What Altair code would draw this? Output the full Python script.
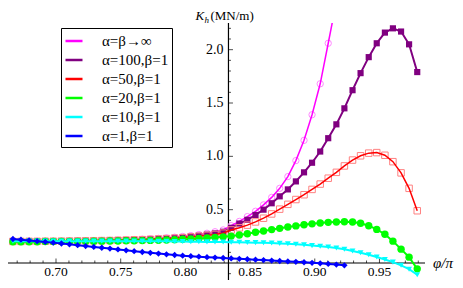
import altair as alt
import pandas as pd

# ---------------- data ----------------
phi = [0.6667, 0.6729, 0.6792, 0.6854, 0.6917, 0.6979, 0.7042, 0.7104, 0.7167, 0.7229,
       0.7292, 0.7354, 0.7417, 0.7479, 0.7542, 0.7604, 0.7667, 0.7729, 0.7792, 0.7854,
       0.7917, 0.7979, 0.8042, 0.8104, 0.8167, 0.8229, 0.8292, 0.8354, 0.8417, 0.8479,
       0.8542, 0.8604, 0.8667, 0.8729, 0.8792, 0.8854, 0.8917, 0.8979, 0.9042, 0.9104,
       0.9167, 0.9229, 0.9292, 0.9354, 0.9417, 0.9479, 0.9542, 0.9604, 0.9667, 0.9729,
       0.9792]

k_inf = [0.203, 0.203, 0.204, 0.204, 0.205, 0.205, 0.206, 0.207, 0.208, 0.209,
         0.210, 0.212, 0.213, 0.215, 0.217, 0.220, 0.223, 0.227, 0.231, 0.236,
         0.242, 0.249, 0.257, 0.267, 0.279, 0.293, 0.310, 0.350, 0.390, 0.435,
         0.485, 0.545, 0.615, 0.700, 0.810, 0.960, 1.150, 1.390, 1.680, 2.060,
         2.450]
k_100 = [0.202, 0.202, 0.203, 0.203, 0.204, 0.204, 0.205, 0.206, 0.207, 0.208,
         0.209, 0.210, 0.212, 0.213, 0.215, 0.217, 0.220, 0.223, 0.226, 0.230,
         0.235, 0.241, 0.248, 0.256, 0.266, 0.278, 0.293, 0.330, 0.370, 0.405,
         0.450, 0.500, 0.560, 0.625, 0.690, 0.765, 0.850, 0.940, 1.045, 1.170,
         1.300, 1.450, 1.620, 1.780, 1.930, 2.060, 2.160, 2.200, 2.170, 2.050,
         1.790]
k_50 = [0.202, 0.202, 0.203, 0.203, 0.204, 0.204, 0.205, 0.206, 0.207, 0.208,
        0.209, 0.210, 0.211, 0.213, 0.215, 0.217, 0.219, 0.222, 0.225, 0.229,
        0.233, 0.238, 0.244, 0.251, 0.259, 0.268, 0.280, 0.310, 0.330, 0.355,
        0.385, 0.420, 0.460, 0.505, 0.550, 0.595, 0.640, 0.690, 0.740, 0.795,
        0.850, 0.910, 0.965, 1.005, 1.030, 1.035, 1.010, 0.950, 0.845, 0.700,
        0.490]
k_20 = [0.200, 0.200, 0.200, 0.200, 0.201, 0.201, 0.202, 0.202, 0.203, 0.203,
        0.204, 0.205, 0.206, 0.207, 0.208, 0.209, 0.210, 0.212, 0.214, 0.216,
        0.219, 0.222, 0.226, 0.230, 0.235, 0.240, 0.245, 0.252, 0.262, 0.275,
        0.288, 0.300, 0.313, 0.325, 0.337, 0.348, 0.358, 0.367, 0.375, 0.381,
        0.385, 0.387, 0.384, 0.372, 0.350, 0.315, 0.270, 0.205, 0.130, 0.055,
        -0.055]
k_10 = [0.204, 0.204, 0.205, 0.205, 0.205, 0.205, 0.205, 0.205, 0.205, 0.205,
        0.205, 0.205, 0.205, 0.205, 0.205, 0.205, 0.205, 0.205, 0.204, 0.203,
        0.202, 0.201, 0.200, 0.199, 0.198, 0.197, 0.196, 0.195, 0.194, 0.193,
        0.191, 0.189, 0.187, 0.184, 0.180, 0.176, 0.170, 0.163, 0.157, 0.150,
        0.140, 0.128, 0.113, 0.096, 0.077, 0.056, 0.033, 0.008, -0.022, -0.058,
        -0.110]
k_1 = [0.225, 0.219, 0.212, 0.205, 0.198, 0.191, 0.183, 0.175, 0.167, 0.159,
       0.151, 0.143, 0.135, 0.127, 0.119, 0.111, 0.103, 0.095, 0.088, 0.081,
       0.075, 0.069, 0.064, 0.059, 0.055, 0.051, 0.047, 0.043, 0.039, 0.035,
       0.031, 0.027, 0.023, 0.019, 0.015, 0.011, 0.007, 0.002, -0.003, -0.009,
       -0.015, -0.022]

series_names = ["α=β→∞", "α=100,β=1", "α=50,β=1", "α=20,β=1", "α=10,β=1", "α=1,β=1"]
series_vals = [k_inf, k_100, k_50, k_20, k_10, k_1]
line_colors = ["#ff00ff", "#800080", "#ff0000", "#00ff00", "#00ffff", "#0000ff"]

x_major = [0.70, 0.75, 0.80, 0.85, 0.90, 0.95]
x_major_labels = ["0.70", "0.75", "0.80", "0.85", "0.90", "0.95"]
x_minor = [0.67, 0.68, 0.69, 0.71, 0.72, 0.73, 0.74, 0.76, 0.77, 0.78, 0.79,
           0.81, 0.82, 0.83, 0.84, 0.86, 0.87, 0.88, 0.89, 0.91, 0.92, 0.93,
           0.94, 0.96, 0.97, 0.98]
y_major = [0.5, 1.0, 1.5, 2.0]
y_major_labels = ["0.5", "1.0", "1.5", "2.0"]
y_minor = [-0.1, 0.1, 0.2, 0.3, 0.4, 0.6, 0.7, 0.8, 0.9, 1.1, 1.2, 1.3, 1.4,
           1.6, 1.7, 1.8, 1.9, 2.1, 2.2]

x_dom = [0.6629, 0.9852]
y_dom = [-0.1406, 2.25]
x_cross = 0.8333
y_axis_span = [-0.18, 2.25]

# ---------------- build ----------------
rows = []
for name, vals in zip(series_names, series_vals):
    for xv, yv in zip(phi, vals):
        rows.append({"phi": xv, "K": yv, "series": name})
df = pd.DataFrame(rows)

xs = alt.Scale(domain=x_dom, nice=False, zero=False)
ys = alt.Scale(domain=y_dom, nice=False, zero=False)
SERIF = "Liberation Serif"


def X(field="phi:Q"):
    return alt.X(field, scale=xs, axis=None)


def Y(field="K:Q"):
    return alt.Y(field, scale=ys, axis=None)


layers = []

# axes lines
layers.append(alt.Chart(pd.DataFrame({"a": [x_dom[0]], "b": [x_dom[1]], "y": [0.0]}))
              .mark_rule(color="black", strokeWidth=1.2)
              .encode(x=X("a:Q"), x2="b:Q", y=Y("y:Q")))
layers.append(alt.Chart(pd.DataFrame({"x": [x_cross], "a": [y_axis_span[0]], "b": [y_axis_span[1]]}))
              .mark_rule(color="black", strokeWidth=1.2)
              .encode(x=X("x:Q"), y=Y("a:Q"), y2="b:Q"))

# ticks
layers.append(alt.Chart(pd.DataFrame({"v": x_major}))
              .mark_tick(orient="vertical", size=4.5, thickness=1, color="black", yOffset=-2.25)
              .encode(x=X("v:Q"), y=alt.Y(datum=0, scale=ys, axis=None)))
layers.append(alt.Chart(pd.DataFrame({"v": x_minor}))
              .mark_tick(orient="vertical", size=2.5, thickness=1, color="black", yOffset=-1.25)
              .encode(x=X("v:Q"), y=alt.Y(datum=0, scale=ys, axis=None)))
layers.append(alt.Chart(pd.DataFrame({"v": y_major}))
              .mark_tick(orient="horizontal", size=4.5, thickness=1, color="black", xOffset=2.25)
              .encode(y=Y("v:Q"), x=alt.X(datum=x_cross, scale=xs, axis=None)))
layers.append(alt.Chart(pd.DataFrame({"v": y_minor}))
              .mark_tick(orient="horizontal", size=2.5, thickness=1, color="black", xOffset=1.25)
              .encode(y=Y("v:Q"), x=alt.X(datum=x_cross, scale=xs, axis=None)))

# tick labels
layers.append(alt.Chart(pd.DataFrame({"v": x_major, "t": x_major_labels}))
              .mark_text(font=SERIF, fontSize=13.5, dy=9, baseline="middle", align="center", color="black")
              .encode(x=X("v:Q"), y=alt.Y(datum=0, scale=ys, axis=None), text="t:N"))
layers.append(alt.Chart(pd.DataFrame({"v": y_major, "t": y_major_labels}))
              .mark_text(font=SERIF, fontSize=14, dx=-5, baseline="middle", align="right", color="black")
              .encode(y=Y("v:Q"), x=alt.X(datum=x_cross, scale=xs, axis=None), text="t:N"))

# axis titles
def title_piece(txt, dx, dy, size, style):
    return (alt.Chart(pd.DataFrame({"t": [txt]}))
            .mark_text(font=SERIF, fontSize=size, fontStyle=style, dx=dx, dy=dy,
                       align="left", baseline="alphabetic", color="black")
            .encode(x=alt.X(datum=x_cross, scale=xs, axis=None),
                    y=alt.Y(datum=y_dom[1], scale=ys, axis=None), text="t:N"))

layers.append(title_piece("K", -33, -3, 13, "italic"))
layers.append(title_piece("h", -24, -0.5, 9, "italic"))
layers.append(title_piece("(MN/m)", -18, -3, 13, "normal"))
layers.append(alt.Chart(pd.DataFrame({"t": ["φ/π"]}))
              .mark_text(font=SERIF, fontSize=15, fontStyle="italic", dx=8, align="left",
                         baseline="middle", color="black")
              .encode(x=alt.X(datum=x_dom[1], scale=xs, axis=None),
                      y=alt.Y(datum=0, scale=ys, axis=None), text="t:N"))

color_scale = alt.Scale(domain=series_names, range=line_colors)
legend = alt.Legend(orient="none", legendX=53, legendY=5, title=None,
                    symbolType="stroke", symbolSize=289, symbolStrokeWidth=2.5,
                    labelFont=SERIF, labelFontSize=15, labelColor="black",
                    strokeColor="black", fillColor="white", padding=3,
                    rowPadding=1, labelOffset=18, cornerRadius=0)

marker_styles = [
    dict(shape="circle", filled=False, size=40, stroke="#ff88ff", strokeWidth=1),
    dict(shape="square", filled=True, size=38, color="#800080"),
    dict(shape="square", filled=False, size=42, stroke="#ff8080", strokeWidth=1),
    dict(shape="circle", filled=True, size=55, color="#00ff00"),
    dict(shape="triangle-down", filled=True, size=34, color="#00ffff"),
    dict(shape="diamond", filled=True, size=40, color="#0000ff"),
]
line_widths = [1.5, 2, 1.5, 2, 2, 2]

for name, mst, lw in zip(series_names, marker_styles, line_widths):
    clip = name == series_names[0]
    base = alt.Chart(df).transform_filter(alt.datum.series == name)
    line = base.mark_line(strokeWidth=lw, clip=clip).encode(
        x=X(), y=Y(), color=alt.Color("series:N", scale=color_scale, legend=legend))
    pts = base.mark_point(opacity=1, clip=clip, **mst).encode(x=X(), y=Y())
    if name in (series_names[0], series_names[2]):
        layers.append(pts)
        layers.append(line)
    else:
        layers.append(line)
        layers.append(pts)

chart = alt.layer(*layers).properties(
    width=417, height=255,
    autosize="none",
    padding={"left": 0, "top": 15, "right": 30, "bottom": 2},
    background="white",
).configure_view(stroke=None)

chart.save("out.html", embed_options={"renderer": "svg", "actions": False})
